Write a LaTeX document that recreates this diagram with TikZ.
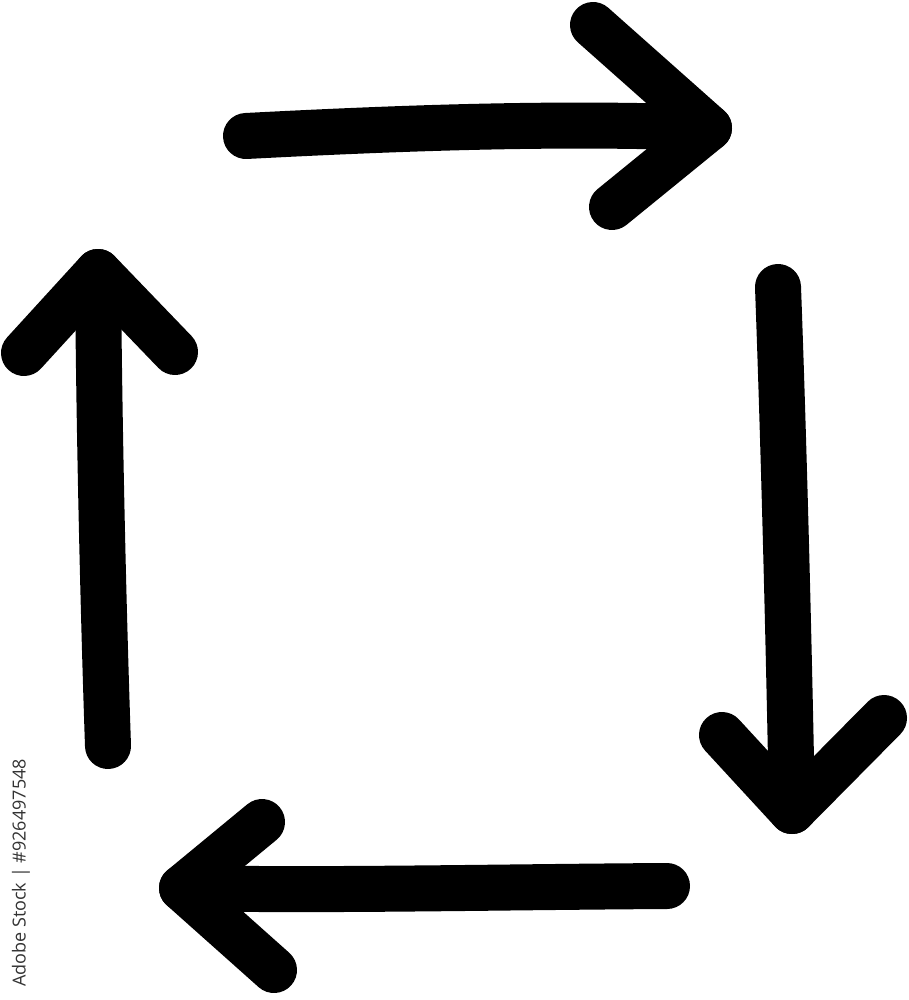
\documentclass[tikz,border=0pt]{standalone}
\usepackage{fontspec}
\newfontfamily\credfont{Open Sans}
\begin{document}
\begin{tikzpicture}[x=1pt,y=-1pt,
  stroke/.style={line width=46pt,line cap=round,line join=round,black},
  credit/.style={font=\credfont\fontsize{18}{18}\selectfont,text=black!80,rotate=90,inner sep=0pt}]
\useasboundingbox (0,0) rectangle (909,1000);
% top arrow
\coordinate (t1) at (246,136);
\coordinate (t2) at (709,128);
\coordinate (tu) at (593,25);
\coordinate (tl) at (612,207);
\draw[stroke] (t1) .. controls (400,128) and (560,122) .. (t2);
\draw[stroke] (tu) -- (t2) -- (tl);
% right arrow
\coordinate (r1) at (778,287);
\coordinate (r2) at (792,811);
\coordinate (rl) at (722,735);
\coordinate (rr) at (884,718);
\draw[stroke] (r1) .. controls (784,450) and (789,650) .. (r2);
\draw[stroke] (rl) -- (r2) -- (rr);
% bottom arrow
\coordinate (b1) at (667,886);
\coordinate (b2) at (182,888);
\coordinate (bu) at (262,822);
\coordinate (bl) at (274,970);
\draw[stroke] (b1) .. controls (500,887) and (320,891) .. (b2);
\draw[stroke] (bu) -- (b2) -- (bl);
% left arrow
\coordinate (l1) at (108,746);
\coordinate (l2) at (98,272);
\coordinate (ll) at (24,353);
\coordinate (lr) at (175,352);
\draw[stroke] (l1) .. controls (103,600) and (99,420) .. (l2);
\draw[stroke] (ll) -- (l2) -- (lr);
% credit
\node[credit] (cr) at (21,873) {Adobe Stock | \#926497548};
\end{tikzpicture}
\end{document}
